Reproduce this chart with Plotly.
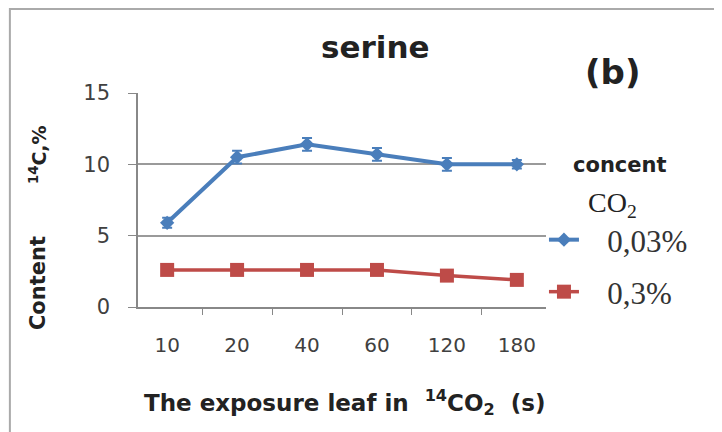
import plotly.graph_objects as go

categories = ["10", "20", "40", "60", "120", "180"]
blue_vals = [5.9, 10.5, 11.4, 10.7, 10.0, 10.0]
blue_err = [0.35, 0.45, 0.45, 0.45, 0.45, 0.3]
red_vals = [2.6, 2.6, 2.6, 2.6, 2.2, 1.9]
red_err = [0.2, 0.2, 0.2, 0.2, 0.2, 0.2]
y_ticks = [0, 5, 10, 15]
series_names = ["0,03%", "0,3%"]

BLUE = "#4a7ebb"
RED = "#be4b48"
PAD = "\u00a0\u00a0\u00a0"

fig = go.Figure()
fig.add_trace(go.Scatter(
    x=categories, y=blue_vals, name=PAD + series_names[0], mode="lines+markers",
    line=dict(color=BLUE, width=4),
    marker=dict(symbol="diamond", size=11, color=BLUE),
    error_y=dict(type="data", array=blue_err, color=BLUE, thickness=2, width=5),
    legend="legend", showlegend=True,
))
fig.add_trace(go.Scatter(
    x=categories, y=red_vals, name=PAD + series_names[1], mode="lines+markers",
    line=dict(color=RED, width=3.5),
    marker=dict(symbol="square", size=14, color=RED),
    error_y=dict(type="data", array=red_err, color=RED, thickness=1.5, width=4),
    legend="legend2", showlegend=True,
))

fig.update_layout(
    width=714, height=424,
    margin=dict(l=130, r=176, t=85, b=125),
    paper_bgcolor="white", plot_bgcolor="white",
    showlegend=True,
    font=dict(family="DejaVu Sans, sans-serif", color="#333333"),
    legend=dict(x=0.995, xanchor="left", y=0.313, yanchor="middle",
                font=dict(size=31, color="#333333", family="Liberation Serif, serif"),
                bgcolor="rgba(0,0,0,0)", itemwidth=30),
    legend2=dict(x=0.995, xanchor="left", y=0.07, yanchor="middle",
                 font=dict(size=31, color="#333333", family="Liberation Serif, serif"),
                 bgcolor="rgba(0,0,0,0)", itemwidth=30),
)
fig.update_xaxes(
    type="category", showgrid=False, showline=True, linecolor="#888888", linewidth=1.5,
    ticks="outside", tickson="boundaries", ticklen=6, tickcolor="#888888",
    tickfont=dict(size=20, color="#404040", family="DejaVu Sans, sans-serif"), ticklabelstandoff=19,
)
fig.update_yaxes(
    range=[0, 15], tickvals=y_ticks, showgrid=True, gridcolor="#9a9a9a", gridwidth=1.5,
    showline=True, linecolor="#888888", linewidth=1.5, zeroline=False,
    ticks="outside", ticklen=8, tickcolor="#888888",
    tickfont=dict(size=21, color="#404040", family="DejaVu Sans, sans-serif"), ticklabelstandoff=14,
)

# frame
fig.add_shape(type="rect", xref="paper", yref="paper", x0=-0.314, x1=1.426, y0=-0.7, y1=1.393,
              line=dict(color="#aaaaaa", width=2), fillcolor="rgba(0,0,0,0)", layer="below")

def note(text, x, y, size=17, family="DejaVu Sans, sans-serif", angle=0):
    fig.add_annotation(text=text, xref="paper", yref="paper", x=x, y=y,
                       xanchor="center", yanchor="middle", showarrow=False,
                       textangle=angle, font=dict(size=size, color="#222222", family=family))

note("<b>serine</b>", 0.581, 1.215, size=31)
note("<b>(b)</b>", 1.164, 1.098, size=34)
note("<b>Content</b>", -0.245, 0.112, size=21, angle=-90)
note("<b><sup>14</sup>C,%</b>", -0.245, 0.71, size=19, angle=-90)
note("<b>concent</b>", 1.181, 0.664, size=21)
note("CO<sub>2</sub>", 1.162, 0.477, size=28, family="Liberation Serif, serif")
note("<b>The exposure leaf in  <sup>14</sup>CO<sub>2</sub>  (s)</b>", 0.507, -0.444, size=23)

fig.write_html("out.html")
